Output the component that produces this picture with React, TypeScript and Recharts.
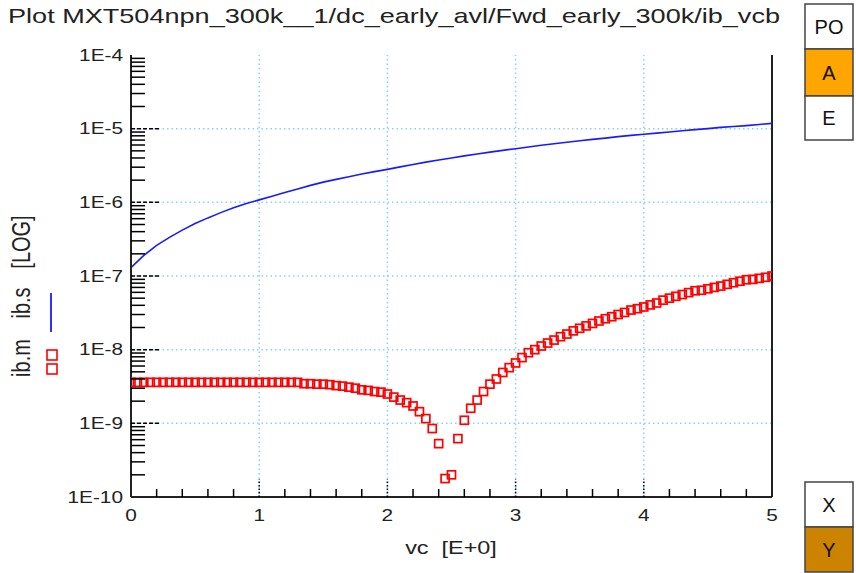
import React from 'react';
import { ComposedChart, Line, Scatter, XAxis, YAxis, ReferenceLine } from 'recharts';

// simulated ib.s (line), read every 0.1 V
const vcSim = [
  0, 0.1, 0.2, 0.3, 0.4, 0.5, 0.6, 0.7, 0.8, 0.9,
  1.0, 1.1, 1.2, 1.3, 1.4, 1.5, 1.6, 1.7, 1.8, 1.9,
  2.0, 2.1, 2.2, 2.3, 2.4, 2.5, 2.6, 2.7, 2.8, 2.9,
  3.0, 3.1, 3.2, 3.3, 3.4, 3.5, 3.6, 3.7, 3.8, 3.9,
  4.0, 4.1, 4.2, 4.3, 4.4, 4.5, 4.6, 4.7, 4.8, 4.9, 5.0,
];
const ibSim = [
  1.3e-7, 1.9e-7, 2.6e-7, 3.35e-7, 4.2e-7, 5.15e-7, 6.15e-7, 7.25e-7, 8.45e-7, 9.65e-7,
  1.08e-6, 1.21e-6, 1.36e-6, 1.52e-6, 1.7e-6, 1.88e-6, 2.05e-6, 2.23e-6, 2.42e-6, 2.61e-6,
  2.8e-6, 3.03e-6, 3.27e-6, 3.51e-6, 3.76e-6, 4.0e-6, 4.27e-6, 4.54e-6, 4.8e-6, 5.08e-6,
  5.35e-6, 5.65e-6, 5.95e-6, 6.25e-6, 6.55e-6, 6.85e-6, 7.15e-6, 7.45e-6, 7.8e-6, 8.1e-6,
  8.4e-6, 8.7e-6, 9.0e-6, 9.35e-6, 9.7e-6, 1.0e-5, 1.04e-5, 1.07e-5, 1.1e-5, 1.14e-5, 1.18e-5,
];

// measured ib.m (squares), every 0.05 V
const vcMeas = [
  0, 0.05, 0.1, 0.15, 0.2, 0.25, 0.3, 0.35, 0.4, 0.45,
  0.5, 0.55, 0.6, 0.65, 0.7, 0.75, 0.8, 0.85, 0.9, 0.95,
  1.0, 1.05, 1.1, 1.15, 1.2, 1.25, 1.3, 1.35, 1.4, 1.45,
  1.5, 1.55, 1.6, 1.65, 1.7, 1.75, 1.8, 1.85, 1.9, 1.95,
  2.0, 2.05, 2.1, 2.15, 2.2, 2.25, 2.3, 2.35, 2.4, 2.45,
  2.5, 2.55, 2.6, 2.65, 2.7, 2.75, 2.8, 2.85, 2.9, 2.95,
  3.0, 3.05, 3.1, 3.15, 3.2, 3.25, 3.3, 3.35, 3.4, 3.45,
  3.5, 3.55, 3.6, 3.65, 3.7, 3.75, 3.8, 3.85, 3.9, 3.95,
  4.0, 4.05, 4.1, 4.15, 4.2, 4.25, 4.3, 4.35, 4.4, 4.45,
  4.5, 4.55, 4.6, 4.65, 4.7, 4.75, 4.8, 4.85, 4.9, 4.95, 5.0,
];
const ibMeas = [
  3.6e-9, 3.6e-9, 3.6e-9, 3.6e-9, 3.6e-9, 3.6e-9, 3.6e-9, 3.6e-9, 3.6e-9, 3.6e-9,
  3.6e-9, 3.6e-9, 3.6e-9, 3.6e-9, 3.6e-9, 3.6e-9, 3.6e-9, 3.6e-9, 3.6e-9, 3.6e-9,
  3.6e-9, 3.6e-9, 3.6e-9, 3.6e-9, 3.6e-9, 3.6e-9, 3.6e-9, 3.45e-9, 3.45e-9, 3.4e-9,
  3.4e-9, 3.35e-9, 3.25e-9, 3.2e-9, 3.1e-9, 3.0e-9, 2.85e-9, 2.8e-9, 2.7e-9, 2.65e-9,
  2.5e-9, 2.27e-9, 2.07e-9, 1.91e-9, 1.72e-9, 1.44e-9, 1.16e-9, 8.5e-10, 5.3e-10, 1.78e-10,
  2.0e-10, 6.2e-10, 1.1e-9, 1.6e-9, 2.07e-9, 2.7e-9, 3.4e-9, 4.0e-9, 4.9e-9, 5.7e-9,
  6.6e-9, 7.8e-9, 9.1e-9, 1.0e-8, 1.12e-8, 1.23e-8, 1.35e-8, 1.5e-8, 1.63e-8, 1.8e-8,
  1.95e-8, 2.1e-8, 2.27e-8, 2.45e-8, 2.63e-8, 2.8e-8, 3.0e-8, 3.2e-8, 3.45e-8, 3.6e-8,
  3.8e-8, 4.05e-8, 4.3e-8, 4.7e-8, 5.0e-8, 5.3e-8, 5.6e-8, 5.95e-8, 6.3e-8, 6.4e-8,
  6.7e-8, 7.0e-8, 7.3e-8, 7.7e-8, 8.1e-8, 8.5e-8, 8.9e-8, 9.0e-8, 9.3e-8, 9.6e-8, 1.0e-7,
];

const xTicks = [0, 0.2, 0.4, 0.6, 0.8, 1, 1.2, 1.4, 1.6, 1.8, 2, 2.2, 2.4, 2.6, 2.8, 3, 3.2, 3.4, 3.6, 3.8, 4, 4.2, 4.4, 4.6, 4.8, 5];
const xMajor = [0, 1, 2, 3, 4, 5];
const yMajor = [1e-10, 1e-9, 1e-8, 1e-7, 1e-6, 1e-5, 1e-4];
const yLabels = ['1E-10', '1E-9', '1E-8', '1E-7', '1E-6', '1E-5', '1E-4'];
const minorMult = [2, 3, 4, 5, 6, 7, 8, 9];
const yTicks = [
  ...yMajor,
  ...yMajor.slice(0, -1).flatMap((d) => minorMult.map((m) => m * d)),
].sort((a, b) => a - b);

const simData = vcSim.map((vc, i) => ({ vc, ib: ibSim[i] }));
const measData = vcMeas.map((vc, i) => ({ vc, ib: ibMeas[i] }));

const FONT = '"Liberation Sans", Arial, sans-serif';
const GRID = '#8ccff8';
const FRAME = '#222';

const isMajorX = (v: number) => xMajor.some((m) => Math.abs(m - v) < 1e-9);
const majorYIndex = (v: number) => yMajor.findIndex((m) => Math.abs(m - v) / m < 1e-6);

const BottomTick = (p: any) => {
  const { x, y, payload } = p;
  const major = isMajorX(payload.value);
  return (
    <g>
      {major ? (
        payload.value > 0 && payload.value < 5 && (
          <line x1={x} x2={x} y1={y} y2={y - 18} stroke="#000" strokeWidth={1.5} strokeDasharray="1.5 2" />
        )
      ) : (
        <line x1={x} x2={x} y1={y} y2={y - 8} stroke="#000" strokeWidth={1.5} />
      )}
      {major && (
        <text x={0} y={0} transform={`translate(${x},${y + 18}) scale(1.3,1)`} textAnchor="middle" dy="0.35em"
          fontSize={16} fill="#222" fontFamily={FONT}>
          {String(payload.value)}
        </text>
      )}
    </g>
  );
};

const TopTick = (p: any) => {
  const { x, y, payload } = p;
  const major = isMajorX(payload.value);
  if (payload.value <= 0 || payload.value >= 5) return <g />;
  return major ? (
    <line x1={x} x2={x} y1={y} y2={y + 18} stroke="#000" strokeWidth={1.5} strokeDasharray="1.5 2" />
  ) : (
    <line x1={x} x2={x} y1={y} y2={y + 8} stroke="#000" strokeWidth={1.5} />
  );
};

const LeftTick = (p: any) => {
  const { x, y, payload } = p;
  const idx = majorYIndex(payload.value);
  return (
    <g>
      {idx >= 0 ? (
        idx > 0 && idx < yMajor.length - 1 && (
          <line x1={x} x2={x + 28} y1={y} y2={y} stroke="#000" strokeWidth={1.5} strokeDasharray="4 2" />
        )
      ) : (
        <line x1={x} x2={x + 14} y1={y} y2={y} stroke="#000" strokeWidth={1.5} />
      )}
      {idx >= 0 && (
        <text x={0} y={0} transform={`translate(${x - 8},${y}) scale(1.3,1)`} textAnchor="end" dy="0.35em"
          fontSize={16} fill="#222" fontFamily={FONT}>
          {yLabels[idx]}
        </text>
      )}
    </g>
  );
};

const Square = (p: any) => {
  const { cx, cy } = p;
  if (cx == null || cy == null) return <g />;
  return <rect x={cx - 4} y={cy - 4} width={8} height={8} fill="none" stroke="#ff0000" strokeWidth={1.7} />;
};

const Btn = ({ y, h, label, fill }: { y: number; h: number; label: string; fill: string }) => (
  <g>
    <rect x={805} y={y} width={48} height={h} fill={fill} stroke="#444" strokeWidth={1.5} />
    <text x={829} y={y + h / 2} dy="0.36em" textAnchor="middle" fontSize={20} fill="#111" fontFamily={FONT}>
      {label}
    </text>
  </g>
);

export default function App() {
  return (
    <div style={{ position: 'absolute', left: 0, top: 0, width: 856, height: 573, background: '#fff', fontFamily: FONT }}>
      <ComposedChart width={856} height={573} margin={{ top: 55, right: 84, bottom: 0, left: 0 }}>
        {[1, 2, 3, 4].map((v) => (
          <ReferenceLine key={'vx' + v} x={v} xAxisId="b" yAxisId="l" stroke={GRID} strokeWidth={1.5} strokeDasharray="1.5 3" />
        ))}
        {yMajor.slice(1, -1).map((v) => (
          <ReferenceLine key={'hy' + v} y={v} xAxisId="b" yAxisId="l" stroke={GRID} strokeWidth={1.5} strokeDasharray="1.5 3" />
        ))}
        <XAxis xAxisId="b" type="number" dataKey="vc" domain={[0, 5]} allowDataOverflow ticks={xTicks} interval={0}
          tickSize={0} tickMargin={0} height={76} tickLine={false} axisLine={{ stroke: FRAME, strokeWidth: 2 }} tick={BottomTick} />
        <XAxis xAxisId="t" orientation="top" type="number" dataKey="vc" domain={[0, 5]} allowDataOverflow ticks={xTicks}
          interval={0} tickSize={0} tickMargin={0} height={0} tickLine={false} axisLine={{ stroke: FRAME, strokeWidth: 2 }} tick={TopTick} />
        <YAxis yAxisId="l" type="number" scale="log" domain={[1e-10, 1e-4]} allowDataOverflow ticks={yTicks} interval={0}
          width={131} tickSize={0} tickMargin={0} tickLine={false} axisLine={{ stroke: FRAME, strokeWidth: 2 }} tick={LeftTick} />
        <ReferenceLine x={5} xAxisId="b" yAxisId="l" stroke={FRAME} strokeWidth={2} />
        <Line xAxisId="b" yAxisId="l" data={simData} dataKey="ib" type="linear" stroke="#1a1aff" strokeWidth={1.6}
          dot={false} isAnimationActive={false} />
        <Scatter xAxisId="b" yAxisId="l" data={measData} dataKey="ib" shape={Square} isAnimationActive={false} />
      </ComposedChart>
      <svg width={856} height={573} style={{ position: 'absolute', left: 0, top: 0, pointerEvents: 'none' }}>
        <text x={8} y={23} fontSize={21} fill="#222" fontFamily={FONT} textLength={772} lengthAdjust="spacingAndGlyphs">
          Plot MXT504npn_300k__1/dc_early_avl/Fwd_early_300k/ib_vcb
        </text>
        <text x={0} y={0} transform="translate(451,548) scale(1.3,1)" textAnchor="middle" dy="0.35em" fontSize={18}
          fill="#222" fontFamily={FONT} style={{ whiteSpace: 'pre' }}>
          {'vc  [E+0]'}
        </text>
        <g fontSize={20} fill="#222" fontFamily={FONT}>
          <text x={0} y={0} transform="translate(30,358) scale(1.3,1) rotate(-90)" textAnchor="middle">ib.m</text>
          <text x={0} y={0} transform="translate(30,303) scale(1.3,1) rotate(-90)" textAnchor="middle">ib.s</text>
          <text x={0} y={0} transform="translate(30,242) scale(1.3,1) rotate(-90)" textAnchor="middle">[LOG]</text>
        </g>
        <line x1={51} x2={51} y1={293} y2={332} stroke="#1a1aff" strokeWidth={1.8} />
        <rect x={47} y={350} width={10} height={10} fill="none" stroke="#ff0000" strokeWidth={1.6} />
        <rect x={47} y={364} width={10} height={10} fill="none" stroke="#ff0000" strokeWidth={1.6} />
        <Btn y={4} h={45} label="PO" fill="#fff" />
        <Btn y={49} h={47} label="A" fill="#ffa500" />
        <Btn y={96} h={44} label="E" fill="#fff" />
        <Btn y={482} h={45} label="X" fill="#fff" />
        <Btn y={527} h={45} label="Y" fill="#cc8400" />
      </svg>
    </div>
  );
}
